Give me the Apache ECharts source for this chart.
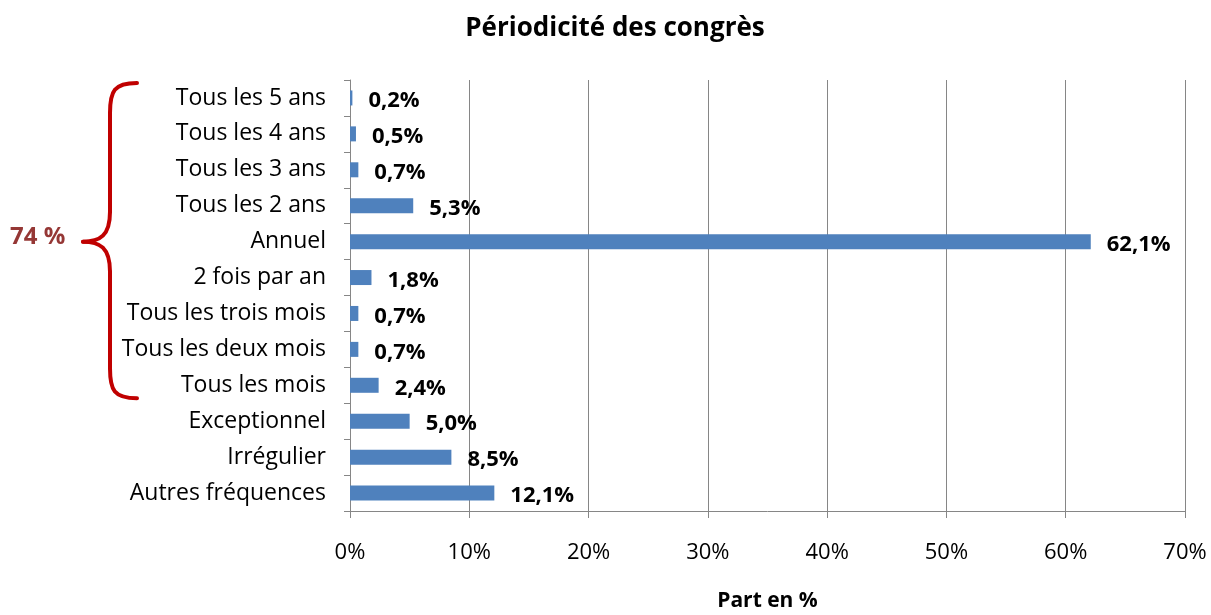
<!DOCTYPE html>
<html><head><meta charset="utf-8">
<script src="https://cdn.jsdelivr.net/npm/echarts@6/dist/echarts.min.js"></script>
<style>html,body{margin:0;padding:0;background:#fff}#c{width:1211px;height:615px}</style>
</head><body><div id="c"></div>
<script>
const categories = ["Tous les 5 ans","Tous les 4 ans","Tous les 3 ans","Tous les 2 ans","Annuel","2 fois par an","Tous les trois mois","Tous les deux mois","Tous les mois","Exceptionnel","Irrégulier","Autres fréquences"];
const values = [0.2,0.5,0.7,5.3,62.1,1.8,0.7,0.7,2.4,5.0,8.5,12.1];
const xTicks = [0,10,20,30,40,50,60,70];
const braceLabel = "74 %";
const braceFrom = "Tous les 5 ans", braceMid = "Annuel", braceTo = "Tous les mois";

const FONT = "'Open Sans', 'Noto Sans', sans-serif";
const chart = echarts.init(document.getElementById('c'), null, {renderer:'canvas'});
const option = {
  animation:false,
  title:{text:"Périodicité des congrès", left:610, top:11, textAlign:'center',
    textStyle:{fontFamily:FONT, fontSize:26, fontWeight:'bold', color:'#000'}},
  grid:{left:350, right:26, top:80, bottom:104, containLabel:false, outerBoundsMode:'none'},
  xAxis:{type:'value', min:xTicks[0], max:xTicks[xTicks.length-1], interval:xTicks[1]-xTicks[0],
    name:"Part en %", nameLocation:'middle', nameGap:80,
    nameTextStyle:{fontFamily:FONT, fontSize:21, fontWeight:'bold', color:'#000'},
    axisLine:{show:true, lineStyle:{color:'#868686', width:1}},
    axisTick:{show:true, length:7, lineStyle:{color:'#868686'}},
    splitLine:{show:true, lineStyle:{color:'#868686', width:1}},
    axisLabel:{formatter:v=>v+'%', margin:31, fontFamily:FONT, fontSize:22, color:'#000'}
  },
  yAxis:{type:'category', data:categories, inverse:true,
    axisLine:{show:true, lineStyle:{color:'#868686'}},
    axisTick:{show:true, length:6, lineStyle:{color:'#868686'}},
    axisLabel:{margin:24, fontFamily:FONT, fontSize:23, color:'#000'}
  },
  series:[{type:'bar', data:values, barWidth:15,
    itemStyle:{color:'#4F81BD'},
    label:{show:true, position:'right', distance:16, offset:[0,3],
      formatter:p=>p.value.toFixed(1).replace('.',',')+'%',
      fontFamily:FONT, fontSize:22, fontWeight:'bold', color:'#000'}
  }]
};
chart.setOption(option);

const yTop = chart.convertToPixel({yAxisIndex:0}, braceFrom) - 15;
const yMid = chart.convertToPixel({yAxisIndex:0}, braceMid);
const yBot = chart.convertToPixel({yAxisIndex:0}, braceTo) + 13;
const xe = 137, xs = 110, xt = 83;
const st = {stroke:'#C00000', lineWidth:4, fill:null, lineCap:'round'};
chart.setOption({graphic:[
  {type:'bezierCurve', shape:{x1:xe,y1:yTop,cpx1:xs+4,cpy1:yTop,cpx2:xs,cpy2:yTop+8,x2:xs,y2:yTop+30}, style:st},
  {type:'line', shape:{x1:xs,y1:yTop+30,x2:xs,y2:yMid-30}, style:st},
  {type:'bezierCurve', shape:{x1:xs,y1:yMid-30,cpx1:xs,cpy1:yMid-6,cpx2:xs-10,cpy2:yMid,x2:xt,y2:yMid}, style:st},
  {type:'bezierCurve', shape:{x1:xt,y1:yMid,cpx1:xs-10,cpy1:yMid,cpx2:xs,cpy2:yMid+6,x2:xs,y2:yMid+30}, style:st},
  {type:'line', shape:{x1:xs,y1:yMid+30,x2:xs,y2:yBot-30}, style:st},
  {type:'bezierCurve', shape:{x1:xs,y1:yBot-30,cpx1:xs,cpy1:yBot-8,cpx2:xs+4,cpy2:yBot,x2:xe,y2:yBot}, style:st},
  {type:'text', left:10, top:yMid-16, style:{text:braceLabel, fill:'#953735', font:`bold 24px ${FONT}`}}
]});
</script></body></html>
